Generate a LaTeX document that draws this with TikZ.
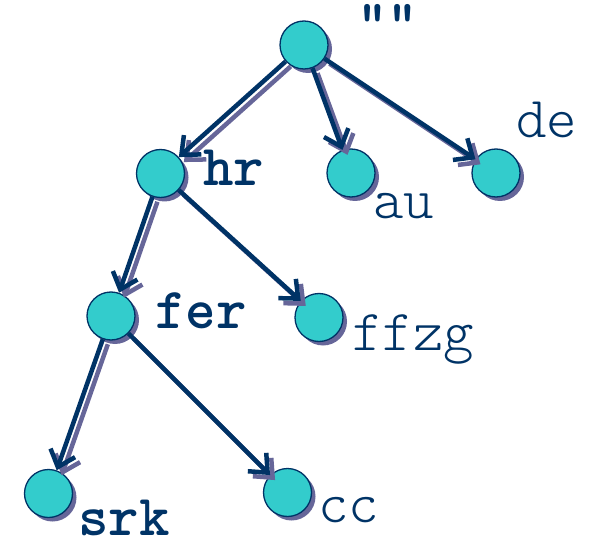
\documentclass[tikz,border=0pt]{standalone}
\usepackage{fontspec}
\newfontfamily\labfont{lmmonolt10-regular.otf}
\newfontfamily\blabfont{lmmonolt10-bold.otf}
\usetikzlibrary{arrows.meta,shadows}
\definecolor{navy}{HTML}{003366}
\definecolor{cyanf}{HTML}{33CCCC}
\definecolor{shadowc}{HTML}{666699}
\tikzset{
  circ/.style={circle, minimum size=48pt, inner sep=0pt, fill=cyanf, draw=navy, line width=1.3pt,
    general shadow={fill=shadowc, shadow xshift=4pt, shadow yshift=-4pt}},
  arr/.style={draw=navy, line width=4.5pt, -{Straight Barb[length=15pt,width=26pt]}},
  arrsh/.style={draw=shadowc, line width=4.5pt, -{Straight Barb[length=15pt,width=26pt]},
    transform canvas={shift={(5pt,-5pt)}}},
  lbl/.style={font=\labfont\fontsize{58}{58}\selectfont, text=navy, inner sep=0pt, anchor=base west},
  blbl/.style={lbl, font=\blabfont\fontsize{58}{58}\selectfont}
}
\begin{document}
\begin{tikzpicture}[x=1pt,y=-1pt]
\useasboundingbox (0,0) rectangle (591,545);
\node[circ] (root) at (304,45) {};
\node[circ] (hr) at (160.5,173.5) {};
\node[circ] (au) at (351,173) {};
\node[circ] (de) at (496,173) {};
\node[circ] (fer) at (111,316) {};
\node[circ] (ffzg) at (319,317.5) {};
\node[circ] (srk) at (48.5,493.5) {};
\node[circ] (cc) at (287.5,492.5) {};
% shadows of connectors
\draw[arrsh] (root) -- (hr);
\draw[arrsh] (root) -- (au);
\draw[arrsh] (root) -- (de);
\draw[arrsh] (hr) -- (fer);
\draw[arrsh] (hr) -- (ffzg);
\draw[arrsh] (fer) -- (srk);
\draw[arrsh] (fer) -- (cc);
% connectors
\draw[arr] (root) -- (hr);
\draw[arr] (root) -- (au);
\draw[arr] (root) -- (de);
\draw[arr] (hr) -- (fer);
\draw[arr] (hr) -- (ffzg);
\draw[arr] (fer) -- (srk);
\draw[arr] (fer) -- (cc);
% labels
\node[blbl, text height=28pt] (lroot) at (357,41) {""};
\node[blbl] (lhr) at (203,186) {hr};
\node[lbl] (lau) at (373,219) {au};
\node[lbl] (lde) at (516,138) {de};
\node[blbl] (lfer) at (155,328) {fer};
\node[lbl] (lffzg) at (352,350) {ffzg};
\node[blbl, text depth=0pt] (lsrk) at (78,535) {srk};
\node[lbl] (lcc) at (318,522) {cc};
\end{tikzpicture}
\end{document}
